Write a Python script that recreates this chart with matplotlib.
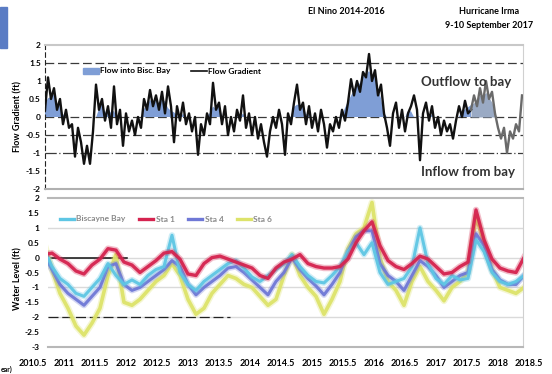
import matplotlib.pyplot as plt
import numpy as np
from matplotlib.lines import Line2D
from matplotlib.patches import Patch, Rectangle
from matplotlib.ticker import FuncFormatter

plt.rcParams['font.family'] = ['Lato', 'DejaVu Sans']
plt.rcParams['axes.unicode_minus'] = False

# flow gradient between canal stations and the bay (ft), ~2.5 week samples
grad = [0.2, 1.1, 0.5, 0.8, 0.2, 0.5, -0.2, 0.2, -0.3, -0.2,
        -1.1, -0.3, -0.7, -1.3, -0.8, -1.3, -0.4, 0.9, 0.2, 0.5,
        -0.1, 0.3, -0.3, 0.85, -0.2, 0.2, -0.8, 0.1, -0.4, -0.1,
        -0.5, 0.0, -0.3, 0.5, 0.2, 0.75, 0.3, 0.6, 0.2, 0.7,
        0.1, 0.85, 0.3, -0.7, 0.3, -0.1, 0.4, -0.2, 0.1, -0.4,
        0.0, -1.05, -0.2, -0.5, 0.1, -0.2, 0.95, 0.2, 0.4, -0.2,
        0.3, -0.5, 0.0, -0.4, 0.2, -0.1, 0.6, -0.3, 0.1, -0.5,
        0.0, -0.6, -0.2, -0.7, -1.1, -0.4, 0.0, -0.3, 0.2, -0.2,
        -1.05, 0.1, -0.2, 0.4, 0.9, 0.2, 0.4, -0.2, 0.3, -0.3,
        0.1, -0.4, 0.2, -0.2, -0.85, -0.2, -0.4, 0.0, -0.3, 0.2,
        -0.1, 0.4, 1.05, 0.6, 1.0, 0.7, 1.25, 1.1, 1.75, 1.0,
        1.3, 0.6, 0.9, 0.1, -0.3, -0.8, 0.1, 0.4, -0.3, 0.2,
        -0.4, 0.1, 0.3, 0.6, 0.2, -1.2, 0.1, 0.4, -0.1, 0.3,
        -0.3, 0.0, -0.5, -0.1, -0.4, -0.2, -0.6, -0.1, 0.3, 0.0,
        0.45, 0.1, 0.2, 0.6, 0.3, 0.8, 0.4, 1.0, 0.5, 0.7,
        0.1, -0.3, -0.6, -0.3, -1.0, -0.4, -0.6, -0.2, -0.4, 0.6]

# water levels (ft), ~7 week samples
bisc = [0.3, -0.3, -0.7, -0.9, -1.2, -1.3, -1.0, -0.7, -0.2, -0.6,
        -0.9, -0.75, -0.9, -0.6, -0.4, -0.3, 0.75, -0.5, -0.9, -1.1,
        -0.8, -0.6, -0.4, -0.2, -0.1, -0.35, -0.65, -0.8, -0.6, -0.4,
        -0.2, 0.1, -0.3, -0.6, -0.8, -0.85, -0.6, -0.3, 0.2, 0.5,
        0.1, 0.5, -0.5, -0.9, -0.8, -0.7, -0.3, 1.0, -0.2, -0.7,
        -0.9, -0.6, -0.75, -0.7, 0.6, 0.2, -0.5, -0.8, -0.9, -0.8, -0.6]
sta1 = [0.1, 0.15, -0.05, -0.2, -0.45, -0.55, -0.25, -0.05, 0.3, 0.25,
        -0.15, -0.25, -0.5, -0.3, -0.1, 0.15, 0.2, -0.05, -0.55, -0.6,
        -0.2, 0.0, 0.05, -0.05, -0.15, -0.25, -0.35, -0.6, -0.7, -0.35,
        -0.15, -0.05, 0.1, -0.2, -0.3, -0.35, -0.35, -0.3, -0.05, 0.5,
        0.9, 1.2, 0.4, -0.1, -0.3, -0.4, -0.2, 0.05, -0.05, -0.3,
        -0.55, -0.5, -0.3, -0.15, 1.6, 0.6, -0.05, -0.35, -0.45, -0.5, 0.0]
sta4 = [0.1, -0.4, -0.9, -1.2, -1.4, -1.6, -1.3, -1.0, -0.3, -0.2,
        -0.9, -1.1, -1.0, -0.8, -0.6, -0.4, -0.1, -0.3, -0.9, -1.25,
        -1.0, -0.8, -0.6, -0.35, -0.3, -0.5, -0.75, -1.0, -1.25, -0.8,
        -0.5, 0.0, -0.4, -0.7, -0.95, -1.25, -0.9, -0.5, 0.2, 0.7,
        0.9, 0.9, -0.2, -0.6, -0.8, -1.1, -0.6, -0.1, -0.3, -0.6,
        -1.0, -0.8, -0.6, -0.5, 0.8, 0.4, -0.4, -0.75, -0.9, -0.9, -0.6]
sta6 = [0.5, -0.4, -1.2, -1.7, -2.3, -2.6, -2.2, -1.7, -0.6, 0.1,
        -1.5, -1.6, -1.4, -1.1, -0.8, -0.6, -0.2, -0.6, -1.4, -1.9,
        -1.7, -1.2, -0.9, -0.6, -0.7, -0.9, -1.0, -1.3, -1.6, -1.4,
        -0.6, 0.1, -0.6, -1.0, -1.3, -1.9, -1.4, -0.8, 0.3, 0.8,
        1.0, 1.85, 0.0, -0.8, -1.1, -1.6, -0.8, -0.3, -0.8, -1.1,
        -1.45, -1.0, -0.8, -0.5, 1.4, 0.5, -0.4, -1.0, -1.1, -1.2, -1.0]

grad_t = np.linspace(2010.694, 2018.387, len(grad))
wl_t = np.linspace(2010.677, 2018.419, len(sta1))
irma_start = 2017.55

year_ticks = np.arange(2010.5, 2018.51, 0.5)

grad = np.array(grad)
# positive part of the ~2 month running mean = flow into the bay
smooth = np.convolve(grad, np.ones(5) / 5, mode='same')

fig = plt.figure(figsize=(5.52, 3.74), dpi=100)
fmt = FuncFormatter(lambda v, p: '%g' % v)
W, H = 552, 374

# ---- flow gradient ----
ax1 = fig.add_axes([45 / W, 1 - 189 / H, 478 / W, 144 / H])
pre = grad_t <= irma_start + 0.03
post = grad_t >= irma_start
ax1.fill_between(grad_t[pre], 0, smooth[pre], where=smooth[pre] > 0,
                 interpolate=True, color='#7f9ed6', lw=0, zorder=2)
ax1.fill_between(grad_t[post], 0, smooth[post], where=smooth[post] > 0,
                 interpolate=True, color='#9aaac4', lw=0, zorder=2)
ax1.plot(grad_t[pre], grad[pre], color='#111111', lw=1.7, zorder=3)
ax1.plot(grad_t[post], grad[post], color='#6a6a6a', lw=1.7, zorder=3)

for y, ls in [(1.5, (0, (7, 3))), (0, (0, (7, 3))), (-0.5, (0, (7, 3))),
              (-1, (0, (9, 2, 1, 2)))]:
    ax1.axhline(y, color='#3a3a3a', lw=0.9, ls=ls, zorder=1)

ax1.set_xlim(2010.694, 2018.403)
ax1.set_ylim(-2, 2)
ax1.set_yticks(np.arange(-2, 2.01, 0.5))
ax1.yaxis.set_major_formatter(fmt)
ax1.set_xticks([])
ax1.tick_params(axis='y', length=0, pad=3, labelsize=6)
for lbl in ax1.get_yticklabels():
    lbl.set_fontweight('bold')
ax1.spines['top'].set_color('#c8c8c8')
ax1.spines['top'].set_linewidth(1.5)
ax1.spines['right'].set_color('#d0d0d0')
ax1.spines['bottom'].set_color('#b0b0b0')
ax1.spines['bottom'].set_linewidth(1.5)
ax1.spines['left'].set_color('#222222')
ax1.spines['left'].set_linewidth(0.8)
ax1.spines['left'].set_linestyle((0, (4, 3)))

ax1.text(0.88, 0.74, 'Outflow to bay', transform=ax1.transAxes, ha='center',
         va='center', fontsize=9.5, fontweight='bold', color='#333333')
ax1.text(0.885, 0.12, 'Inflow from bay', transform=ax1.transAxes, ha='center',
         va='center', fontsize=9.5, fontweight='bold', color='#333333')

h1 = [Patch(color='#7f9ed6'), Line2D([], [], color='#111111', lw=1.2)]
ax1.legend(h1, ['Flow into Bisc. Bay', 'Flow Gradient'], ncol=2, loc='center',
           bbox_to_anchor=(172 / W, 1 - 71 / H), bbox_transform=fig.transFigure,
           frameon=False, prop={'size': 6, 'weight': 'bold'},
           handlelength=1.9, handleheight=0.7, handletextpad=0.2,
           columnspacing=2.4)

# ---- water levels ----
ax2 = fig.add_axes([48 / W, 1 - 347 / H, 475 / W, 149 / H])
series = [(sta6, '#dde36a', 2.6, 3), (sta4, '#6f78d6', 2.2, 4),
          (bisc, '#5ec6e4', 2.2, 5), (sta1, '#d5234f', 2.4, 6)]
for vals, col, lw, z in series:
    # soft halo under each trace
    ax2.plot(wl_t, vals, color=col, lw=lw + 2.2, alpha=0.3, zorder=z)
    ax2.plot(wl_t, vals, color=col, lw=lw, alpha=0.95, zorder=z)

for y in [1, 0, -1, -2]:
    ax2.axhline(y, color='#dadada', lw=1, zorder=1)
ax2.axhline(0, xmax=0.166, color='#111111', lw=1.1, zorder=2)
ax2.axhline(-2, xmax=0.383, color='#222222', lw=0.9, ls=(0, (8, 3)), zorder=2)

ax2.set_xlim(2010.742, 2018.403)
ax2.set_ylim(-3, 2)
ax2.set_yticks(np.arange(-3, 2.01, 0.5))
ax2.yaxis.set_major_formatter(fmt)
ax2.set_xticks([])
ax2.tick_params(axis='y', length=0, pad=6, labelsize=6)
for lbl in ax2.get_yticklabels():
    lbl.set_fontweight('bold')
ax2.spines['left'].set_visible(False)
ax2.spines['top'].set_color('#b8b8b8')
ax2.spines['top'].set_linewidth(1.5)
ax2.spines['bottom'].set_color('#b8b8b8')
ax2.spines['bottom'].set_linewidth(1.5)
ax2.spines['right'].set_color('#d0d0d0')

h2 = [Line2D([], [], color=c, lw=2.4) for c in
      ['#5ec6e4', '#d5234f', '#6f78d6', '#dde36a']]
leg = ax2.legend(h2, ['Biscayne Bay', 'Sta 1', 'Sta 4', 'Sta 6'], ncol=4,
                 loc='center', bbox_to_anchor=(166 / W, 1 - 219 / H),
                 bbox_transform=fig.transFigure, frameon=False,
                 prop={'size': 6, 'weight': 'bold'}, handlelength=1.7,
                 handletextpad=0.3, columnspacing=1.6)
for t in leg.get_texts():
    t.set_color('#8a8a8a')

# shared year labels
lab = fig.add_axes([33 / W, 1 - 358 / H, 496 / W, 0.001])
lab.set_xlim(2010.5, 2018.5)
lab.set_xticks(year_ticks)
lab.set_xticklabels(['%g' % v for v in year_ticks], fontsize=6.5,
                    fontweight='bold')
lab.tick_params(axis='x', length=0, pad=1)
lab.set_yticks([])
for s in lab.spines.values():
    s.set_visible(False)

fig.text(18 / W, 1 - 117 / H, 'Flow Gradient (ft)', rotation=90, ha='center',
         va='center', fontsize=6.5, fontweight='bold')
fig.text(18 / W, 1 - 279 / H, 'Water Level (ft)', rotation=90, ha='center',
         va='center', fontsize=6.5, fontweight='bold')

fig.text(346 / W, 1 - 11 / H, 'El Nino 2014-2016', ha='center', va='center',
         fontsize=6.5, fontweight='bold')
fig.text(489 / W, 1 - 11 / H, 'Hurricane Irma', ha='center', va='center',
         fontsize=6.5, fontweight='bold')
fig.text(489 / W, 1 - 25 / H, '9-10 September 2017', ha='center',
         va='center', fontsize=6.5, fontweight='bold')
fig.text(1 / W, 1 / H, 'ear)', ha='left', va='bottom', fontsize=5,
         fontweight='bold')

fig.patches.append(Rectangle((0, 1 - 48 / H), 7 / W, 41 / H,
                             transform=fig.transFigure, color='#5a7cc4'))

fig.savefig('out.png', dpi=100)
